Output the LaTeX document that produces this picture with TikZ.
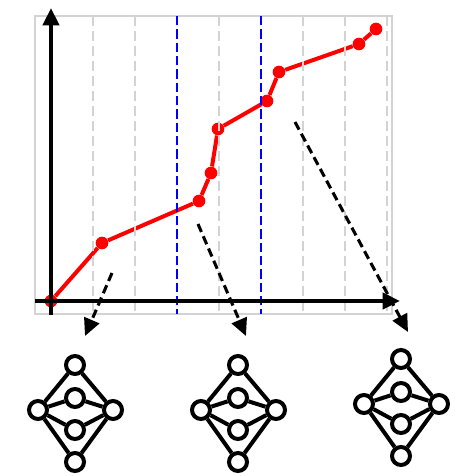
\documentclass[tikz,border=0pt]{standalone}
\usetikzlibrary{arrows.meta}
\definecolor{gridGray}{RGB}{211,211,211}

\begin{document}
\begin{tikzpicture}[x=0.75pt,y=-0.75pt,>={Triangle[length=13pt,width=12pt]},
        pt/.style={circle,fill=red,inner sep=0pt,minimum size=9.5pt},
        neuron/.style={circle,draw,line width=3pt,inner sep=0pt,minimum size=13.5pt},
        grd/.style={gridGray,line width=2pt,dash pattern=on 7.5pt off 3.75pt},
        split/.style={blue,line width=2.2pt,dash pattern=on 7pt off 3pt},
        ax/.style={->,line width=3pt},
        hint/.style={->,line width=2.3pt,dash pattern=on 6.5pt off 3.5pt}]
        \useasboundingbox (0,0) rectangle (460,476);
        \draw[gridGray,line width=1pt] (35,16) rectangle (392,314);
        % curve
        \node[pt] (p0) at (51,301) {};
        \node[pt] (p1) at (102,243) {};
        \node[pt] (p2) at (199,201) {};
        \node[pt] (p3) at (211,173) {};
        \node[pt] (p4) at (218,129) {};
        \node[pt] (p5) at (267,101) {};
        \node[pt] (p6) at (279,72) {};
        \node[pt] (p7) at (359,44) {};
        \node[pt] (p8) at (376,29) {};
        \draw[red,line width=3pt] (p0)--(p1)--(p2)--(p3)--(p4)--(p5)--(p6)--(p7)--(p8);
        % grid and splits
        \foreach \x in {93,135,219,303,345,387} \draw[grd] (\x,16)--(\x,314);
        \draw[split] (177,16)--(177,314);
        \draw[split] (261,16)--(261,314);
        % axes
        \coordinate (xs) at (35,301); \coordinate (xe) at (400,301);
        \coordinate (ys) at (51,315); \coordinate (ye) at (51,8);
        \draw[ax] (xs)--(xe); \draw[ax] (ys)--(ye);
        % networks
        \foreach \nm/\cx/\cy in {L/75/410,M/238/410,R/401/404} {
          \node[neuron] (\nm-in) at (\cx-37,\cy) {};
          \node[neuron] (\nm-out) at (\cx+38,\cy) {};
          \foreach \k/\dy in {1/-45,2/-12,3/20,4/52} {
            \node[neuron] (\nm\k) at (\cx,\cy+\dy) {};
            \draw[line width=3pt] (\nm-in)--(\nm\k)--(\nm-out);
          }
        }
        % pointers
        \coordinate (s1) at (112,273); \coordinate (e1) at (85,336);
        \coordinate (s2) at (198,224); \coordinate (e2) at (246,336);
        \coordinate (s3) at (295,122); \coordinate (e3) at (408,332);
        \draw[hint] (s1)--(e1); \draw[hint] (s2)--(e2); \draw[hint] (s3)--(e3);
      \end{tikzpicture}
\end{document}
